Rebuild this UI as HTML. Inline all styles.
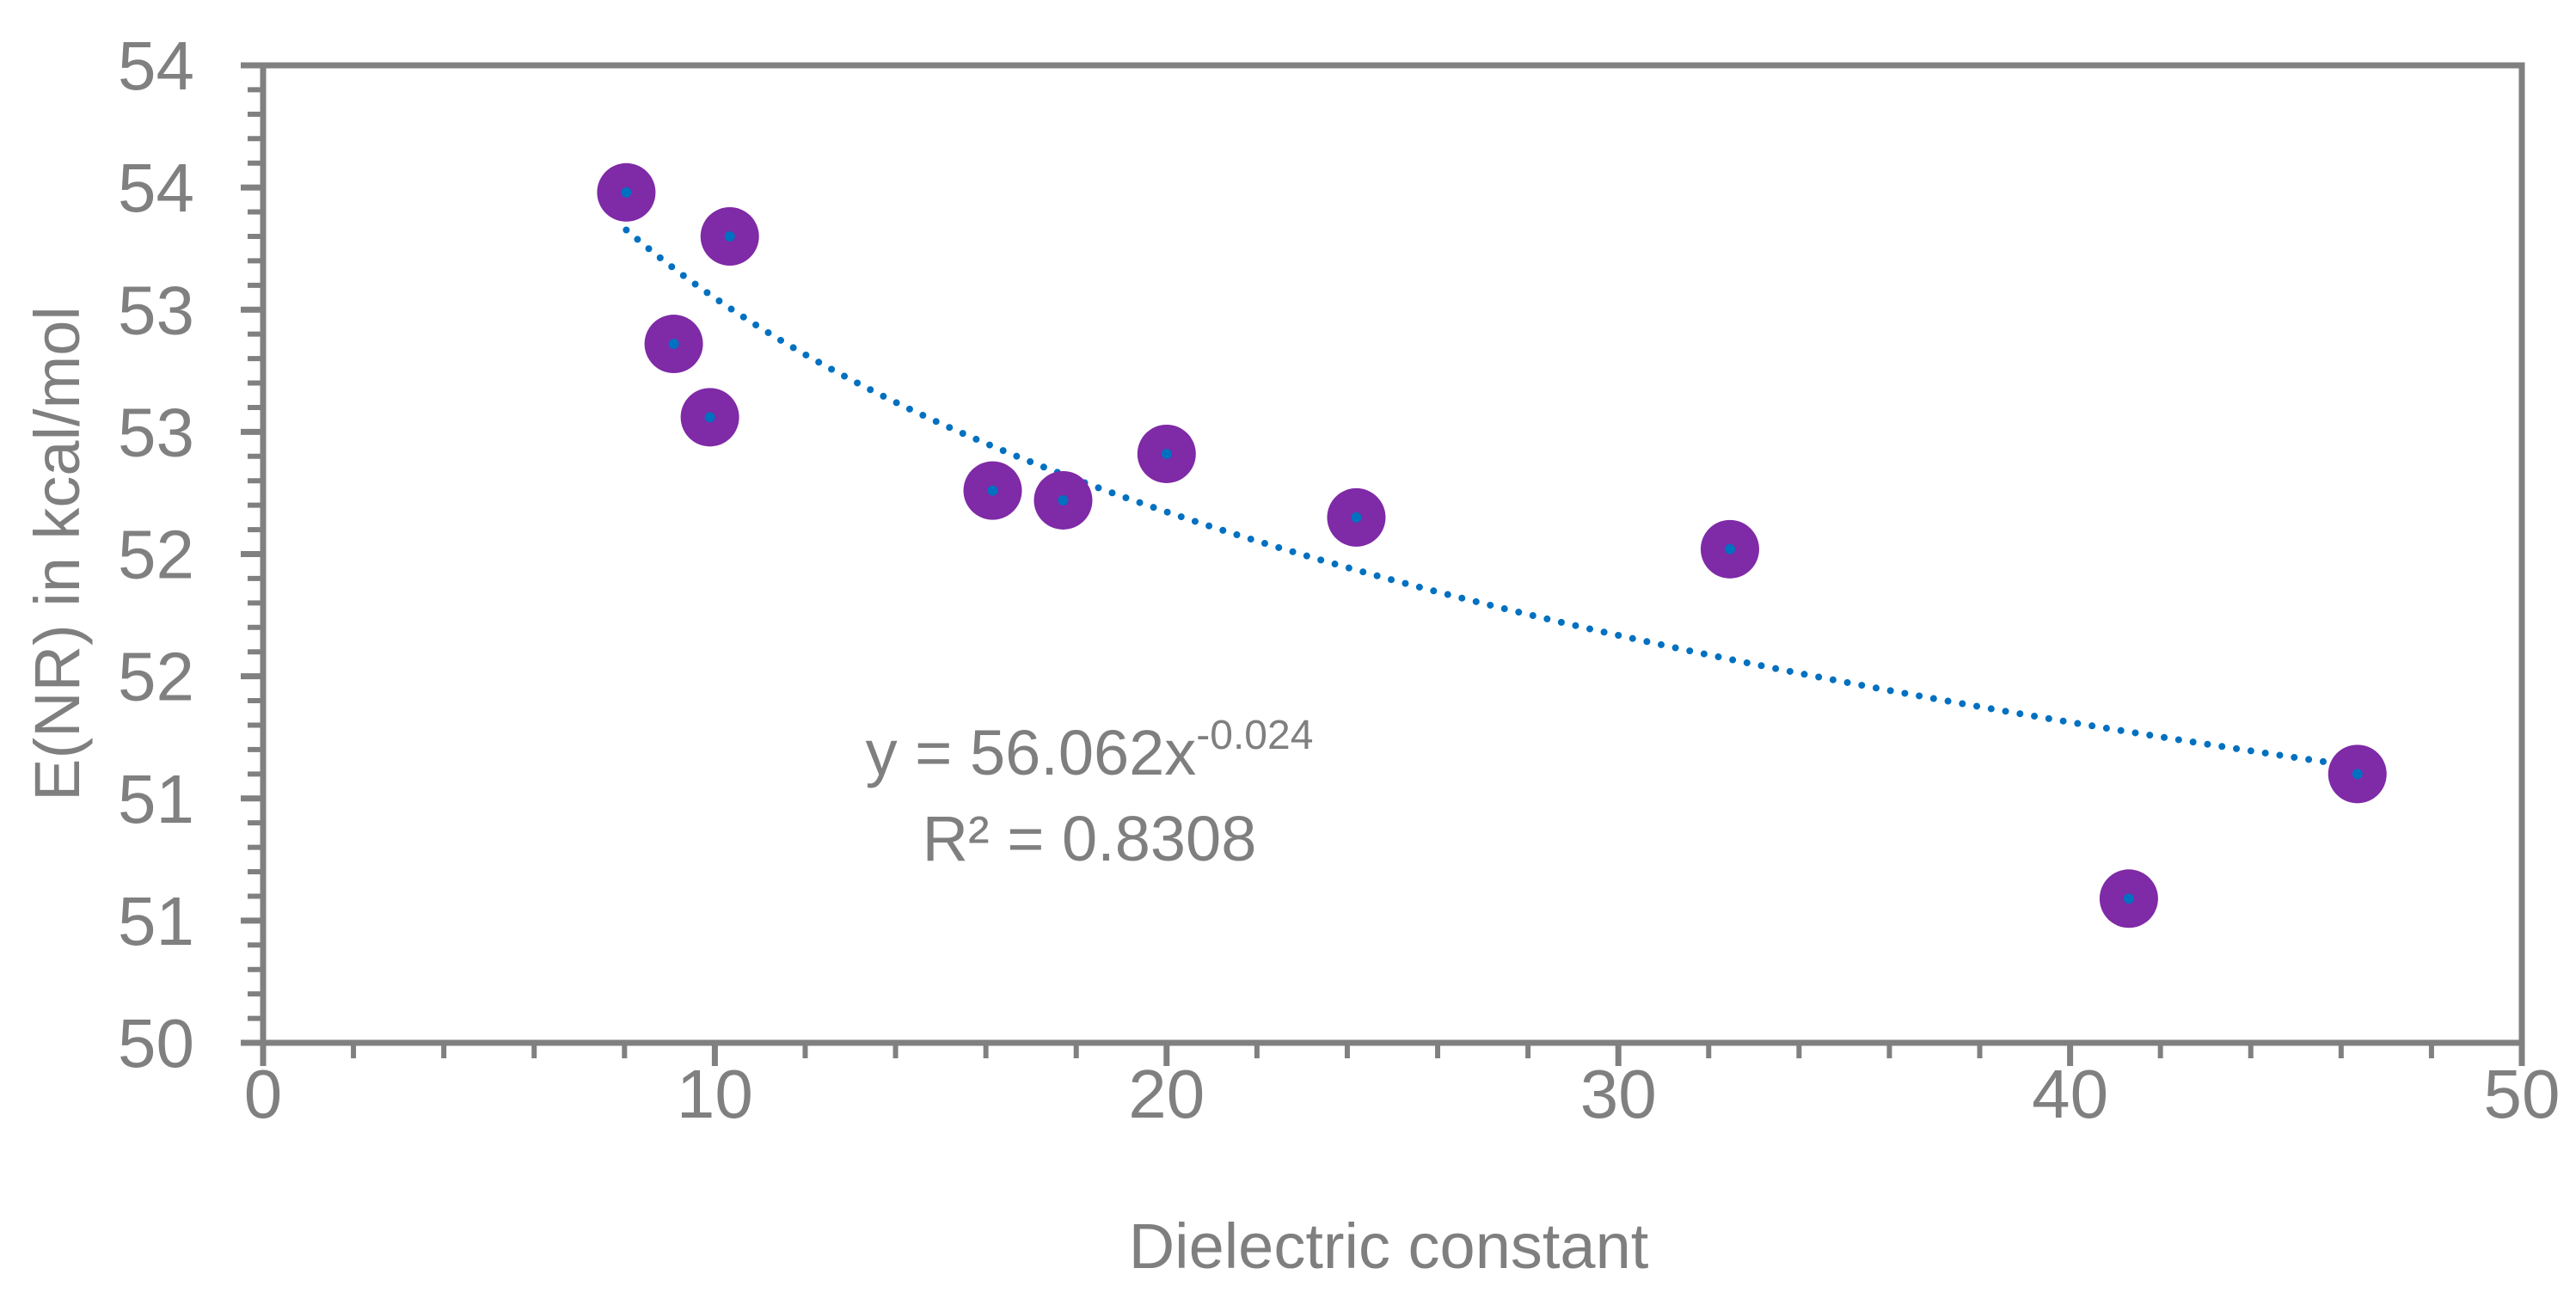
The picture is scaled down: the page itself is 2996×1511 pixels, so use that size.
<!DOCTYPE html>
<html><head><meta charset="utf-8"><style>
html,body{margin:0;padding:0;background:#fff;}
svg{display:block;font-family:"Liberation Sans",sans-serif;}
</style></head><body>
<svg id="chart" width="2996" height="1511" viewBox="0 0 2996 1511">
<g id="axes"></g>
<g id="trend"></g>
<g id="points"></g>
<text x="1267" y="901" font-size="74" fill="#7f7f7f" text-anchor="middle">y = 56.062x<tspan font-size="48" dy="-30">-0.024</tspan></text>
<text x="1267" y="1001" font-size="74" fill="#7f7f7f" text-anchor="middle">R² = 0.8308</text>
<text x="1615" y="1475" font-size="74" fill="#7f7f7f" text-anchor="middle">Dielectric constant</text>
<text x="0" y="0" font-size="74" fill="#7f7f7f" text-anchor="middle" transform="translate(92,644) rotate(-90)">E(NR) in kcal/mol</text>
</svg>
<script>
const xValues=[8.04,9.09,10.33,9.89,16.15,17.71,20.0,24.2,32.47,41.3,46.36];
const yValues=[53.48,52.86,53.30,52.56,52.26,52.22,52.41,52.15,52.02,50.59,51.10];
const xTicks=[0,10,20,30,40,50];
const yTicks=[50,50.5,51,51.5,52,52.5,53,53.5,54];
const yTickLabels=["50","51","51","52","52","53","53","54","54"];
const trendA=56.062, trendB=-0.024;

const NS="http://www.w3.org/2000/svg";
const L=306,R=2933,T=76,B=1213;
const sx=v=>L+(v-0)/(50-0)*(R-L);
const sy=v=>B-(v-50)/(54-50)*(B-T);
const grey="#808080";
function mk(tag,attrs,parent){const e=document.createElementNS(NS,tag);for(const k in attrs)e.setAttribute(k,attrs[k]);parent.appendChild(e);return e;}
const ax=document.getElementById('axes');
const frame=mk('rect',{x:L,y:T,width:R-L,height:B-T,fill:'none',stroke:grey,'stroke-width':7},ax);


for(let v=50;v<=54.0001;v+=0.1){
  const t=mk('line',{x1:L-18,x2:L,y1:sy(v),y2:sy(v),stroke:grey,'stroke-width':6},ax);
  
  
}
yTicks.forEach((v,i)=>{
  const t=mk('line',{x1:L-26,x2:L,y1:sy(v),y2:sy(v),stroke:grey,'stroke-width':7},ax);
  
  
  const tx=mk('text',{x:226,y:sy(v)+28,'font-size':80,fill:grey,'text-anchor':'end'},ax);
  tx.textContent=yTickLabels[i];
  
  
});
for(let v=0;v<=50;v+=2){
  const t=mk('line',{x1:sx(v),x2:sx(v),y1:B,y2:B+18,stroke:grey,'stroke-width':6},ax);
  
  
}
xTicks.forEach(v=>{
  const t=mk('line',{x1:sx(v),x2:sx(v),y1:B,y2:B+27,stroke:grey,'stroke-width':7},ax);
  
  
  const tx=mk('text',{x:sx(v),y:1300,'font-size':80,fill:grey,'text-anchor':'middle'},ax);
  tx.textContent=String(v);
  
  
});
const tg=document.getElementById('trend');
const xmin=Math.min(...xValues),xmax=Math.max(...xValues);
let d='';
for(let i=0;i<=200;i++){const x=xmin+(xmax-xmin)*i/200;const y=trendA*Math.pow(x,trendB);d+=(i?'L':'M')+sx(x).toFixed(1)+','+sy(y).toFixed(1);}
const tp=mk('path',{d:d,fill:'none',stroke:'#0070c0','stroke-width':8,'stroke-dasharray':'0 17','stroke-linecap':'round'},tg);


const pg=document.getElementById('points');
xValues.forEach((x,i)=>{
  const c=mk('circle',{cx:sx(x),cy:sy(yValues[i]),r:34,fill:'#7f2aa6'},pg);
  
  
  const c2=mk('circle',{cx:sx(x),cy:sy(yValues[i]),r:6,fill:'#0070c0'},pg);
  
  
});
</script>
</body></html>
